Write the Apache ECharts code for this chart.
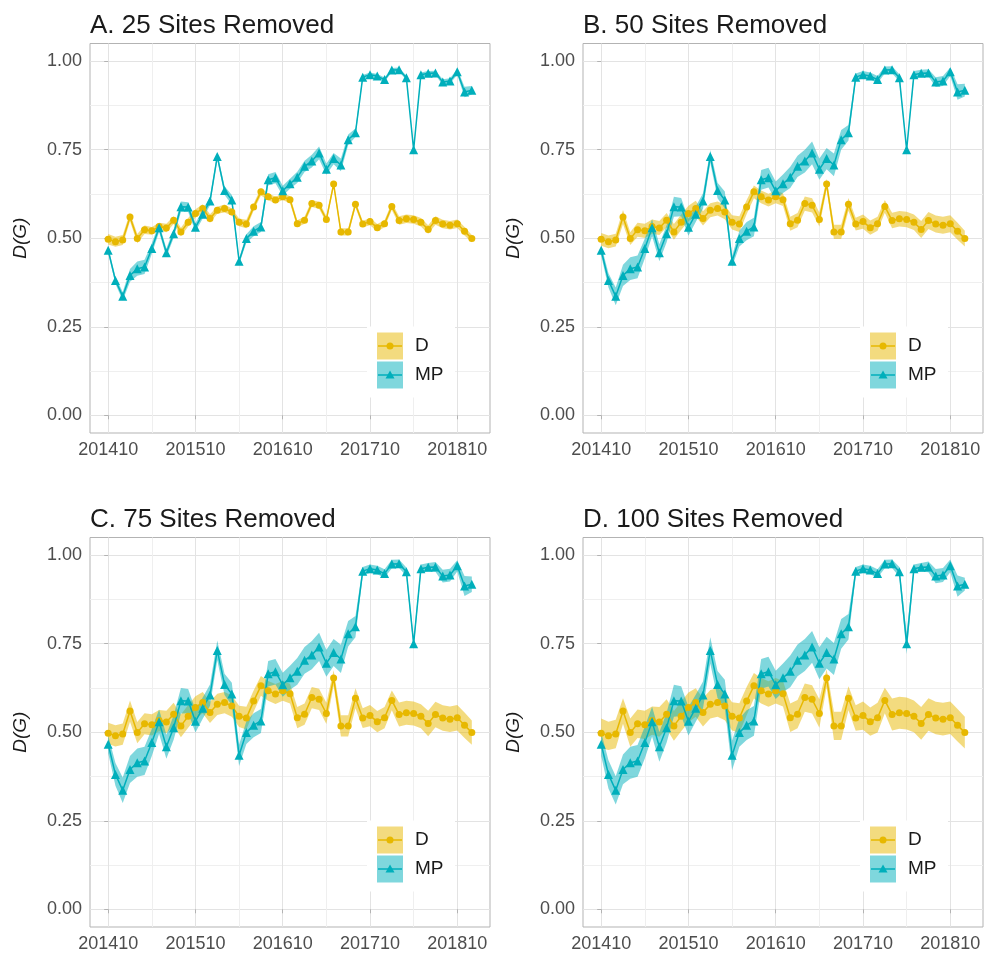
<!DOCTYPE html>
<html>
<head>
<meta charset="utf-8">
<script src="https://cdn.jsdelivr.net/npm/echarts@6/dist/echarts.min.js"></script>
<style>
  html, body { margin: 0; padding: 0; background: #fff; }
  #chart { width: 984px; height: 954px; }
</style>
</head>
<body>
<div id="chart"></div>
<script>
// Monthly sampling periods (yyyymm)
const months = [
  '201410','201411','201412',
  '201501','201502','201503','201504','201505','201506','201507','201508','201509','201510','201511','201512',
  '201601','201602','201603','201604','201605','201606','201607','201608','201609','201610','201611','201612',
  '201701','201702','201703','201704','201705','201706','201707','201708','201709','201710','201711','201712',
  '201801','201802','201803','201804','201805','201806','201807','201808','201809','201810','201811','201812'
];
const xTickLabels = ['201410', '201510', '201610', '201710', '201810'];
const yTickValues = [0, 0.25, 0.5, 0.75, 1];

const panelTitles = ['A. 25 Sites Removed', 'B. 50 Sites Removed', 'C. 75 Sites Removed', 'D. 100 Sites Removed'];
const seriesNames = ['D', 'MP'];

// Mean D(G) per month
const meanD = [0.497,0.490,0.495,0.560,0.499,0.524,0.521,0.533,0.529,0.551,0.518,0.545,0.570,0.584,0.556,0.579,0.584,0.574,0.545,0.540,0.588,0.631,0.617,0.608,0.617,0.609,0.541,0.551,0.598,0.593,0.553,0.653,0.518,0.518,0.596,0.540,0.547,0.530,0.541,0.590,0.550,0.555,0.553,0.545,0.525,0.550,0.540,0.537,0.541,0.520,0.499];
const meanMP = [0.466,0.381,0.336,0.395,0.414,0.419,0.471,0.530,0.459,0.513,0.589,0.588,0.531,0.568,0.605,0.731,0.635,0.608,0.435,0.499,0.520,0.532,0.665,0.671,0.634,0.654,0.672,0.703,0.718,0.741,0.695,0.725,0.707,0.778,0.798,0.955,0.962,0.958,0.948,0.975,0.976,0.953,0.750,0.962,0.966,0.967,0.941,0.944,0.970,0.913,0.918];

// Half-widths of the uncertainty bands, one array per panel and series
const bandD25 = [0.015,0.014,0.014,0.012,0.013,0.012,0.011,0.011,0.012,0.011,0.012,0.012,0.012,0.012,0.012,0.010,0.011,0.010,0.011,0.012,0.010,0.010,0.010,0.009,0.009,0.010,0.010,0.010,0.010,0.010,0.009,0.008,0.010,0.010,0.009,0.009,0.010,0.010,0.010,0.010,0.012,0.012,0.012,0.012,0.012,0.012,0.012,0.012,0.012,0.012,0.010];
const bandMP25 = [0.008,0.010,0.012,0.018,0.020,0.020,0.015,0.012,0.012,0.012,0.015,0.014,0.012,0.012,0.012,0.010,0.012,0.014,0.008,0.012,0.014,0.014,0.016,0.016,0.014,0.014,0.016,0.016,0.018,0.018,0.016,0.016,0.018,0.015,0.012,0.006,0.006,0.006,0.006,0.006,0.006,0.006,0.004,0.006,0.006,0.006,0.008,0.008,0.008,0.015,0.012];
const bandD50 = [0.018,0.018,0.018,0.020,0.018,0.020,0.020,0.020,0.020,0.020,0.022,0.022,0.022,0.022,0.020,0.020,0.020,0.020,0.020,0.022,0.020,0.018,0.018,0.018,0.018,0.018,0.020,0.020,0.020,0.020,0.020,0.015,0.020,0.020,0.018,0.018,0.020,0.020,0.020,0.018,0.022,0.022,0.022,0.022,0.024,0.024,0.024,0.024,0.024,0.024,0.022];
const bandMP50 = [0.015,0.020,0.025,0.030,0.032,0.032,0.028,0.024,0.024,0.024,0.028,0.026,0.024,0.022,0.022,0.018,0.022,0.024,0.015,0.022,0.026,0.026,0.028,0.028,0.026,0.026,0.030,0.030,0.032,0.032,0.030,0.030,0.032,0.028,0.022,0.010,0.010,0.010,0.010,0.010,0.010,0.010,0.006,0.010,0.010,0.010,0.014,0.014,0.012,0.022,0.018];
const bandD75 = [0.030,0.030,0.030,0.030,0.030,0.030,0.030,0.030,0.032,0.032,0.032,0.032,0.032,0.030,0.030,0.030,0.030,0.030,0.030,0.032,0.030,0.028,0.028,0.028,0.028,0.028,0.030,0.030,0.030,0.030,0.030,0.022,0.030,0.030,0.028,0.028,0.030,0.030,0.030,0.028,0.034,0.034,0.034,0.034,0.036,0.036,0.036,0.036,0.036,0.036,0.034];
const bandMP75 = [0.025,0.032,0.036,0.038,0.040,0.040,0.038,0.034,0.034,0.034,0.036,0.034,0.032,0.030,0.030,0.028,0.030,0.032,0.030,0.032,0.034,0.034,0.036,0.036,0.034,0.034,0.038,0.038,0.040,0.040,0.038,0.038,0.040,0.036,0.030,0.012,0.012,0.012,0.012,0.012,0.012,0.012,0.015,0.012,0.012,0.014,0.018,0.018,0.016,0.028,0.022];
const bandD100 = [0.042,0.040,0.040,0.036,0.040,0.040,0.040,0.040,0.042,0.042,0.042,0.042,0.042,0.040,0.040,0.040,0.040,0.040,0.040,0.042,0.040,0.036,0.036,0.036,0.036,0.036,0.040,0.040,0.040,0.040,0.040,0.025,0.040,0.040,0.034,0.036,0.040,0.040,0.042,0.036,0.045,0.045,0.045,0.045,0.046,0.046,0.046,0.046,0.046,0.046,0.045];
const bandMP100 = [0.033,0.040,0.040,0.042,0.045,0.045,0.045,0.042,0.042,0.042,0.045,0.042,0.040,0.038,0.038,0.037,0.038,0.040,0.042,0.040,0.042,0.042,0.042,0.042,0.040,0.040,0.045,0.045,0.045,0.045,0.045,0.045,0.045,0.042,0.036,0.012,0.012,0.012,0.012,0.012,0.012,0.014,0.030,0.012,0.012,0.015,0.020,0.020,0.018,0.030,0.018];

const bandsD = [bandD25, bandD50, bandD75, bandD100];
const bandsMP = [bandMP25, bandMP50, bandMP75, bandMP100];

const COLORS = { D: '#E7B800', MP: '#00AFBB' };
const FONT = 'Liberation Sans, Arial, sans-serif';

// Panel geometry (px)
const PW = 400, PH = 389.5;
const panels = [
  { left: 90,  top: 43.5 },
  { left: 583, top: 43.5 },
  { left: 90,  top: 537.5 },
  { left: 583, top: 537.5 }
];

const X_MIN = -2.5, X_MAX = months.length - 1 + 2.5;
const majorX = xTickLabels.map(l => months.indexOf(l));
const minorX = majorX.map(v => v + 6).filter(v => v < X_MAX);
const minorY = [0.125, 0.375, 0.625, 0.875];

const chart = echarts.init(document.getElementById('chart'), null, { renderer: 'canvas' });

const grid = [], xAxis = [], yAxis = [], series = [], title = [], graphic = [];

function bandSeries(p, name, center, hw, color) {
  return {
    type: 'custom',
    name: name + ' band',
    xAxisIndex: 2 * p, yAxisIndex: 2 * p,
    silent: true,
    z: 2,
    data: center.map((v, i) => [i, v - hw[i], v + hw[i]]),
    encode: { x: 0, y: [1, 2] },
    renderItem: function (params, api) {
      if (params.dataIndex !== 0) return null;
      const pts = [];
      for (let i = 0; i < center.length; i++) pts.push(api.coord([i, center[i] + hw[i]]));
      for (let i = center.length - 1; i >= 0; i--) pts.push(api.coord([i, center[i] - hw[i]]));
      return { type: 'polygon', shape: { points: pts }, style: { fill: color, opacity: 0.5 } };
    }
  };
}

function lineSeries(p, name, center, color, symbol, size) {
  return {
    type: 'line',
    name: name,
    xAxisIndex: 2 * p, yAxisIndex: 2 * p,
    data: center.map((v, i) => [i, v]),
    symbol: symbol,
    symbolSize: size,
    showSymbol: true,
    silent: true,
    z: 3,
    lineStyle: { color: color, width: 1.5 },
    itemStyle: { color: color, borderWidth: 0 },
    animation: false
  };
}

panels.forEach((pn, p) => {
  grid.push({
    left: pn.left, top: pn.top, width: PW, height: PH,
    show: true, borderColor: '#b3b3b3', borderWidth: 1, backgroundColor: '#fff'
  });
  // major x axis
  xAxis.push({
    type: 'value', gridIndex: p, min: X_MIN, max: X_MAX,
    axisLine: { show: false },
    axisTick: { show: true, length: 4, lineStyle: { color: '#b3b3b3' }, customValues: majorX },
    axisLabel: {
      show: true, customValues: majorX, margin: 8, color: '#4d4d4d', fontSize: 18, fontFamily: FONT,
      formatter: v => months[Math.round(v)]
    },
    splitLine: { show: true, lineStyle: { color: '#e3e3e3', width: 1 } }
  });
  // minor x grid lines
  xAxis.push({
    type: 'value', gridIndex: p, min: X_MIN, max: X_MAX,
    axisLine: { show: false }, axisLabel: { show: false },
    axisTick: { show: false, customValues: minorX },
    splitLine: { show: true, lineStyle: { color: '#efefef', width: 1 } }
  });
  yAxis.push({
    type: 'value', gridIndex: p, min: -0.05, max: 1.05,
    name: 'D(G)', nameLocation: 'middle', nameGap: 60, nameRotate: 90,
    nameTextStyle: { fontStyle: 'italic', fontSize: 19, color: '#1a1a1a', fontFamily: FONT },
    axisLine: { show: false },
    axisTick: { show: true, length: 4, lineStyle: { color: '#b3b3b3' }, customValues: yTickValues },
    axisLabel: {
      show: true, customValues: yTickValues, margin: 8, color: '#4d4d4d', fontSize: 18, fontFamily: FONT,
      formatter: v => v.toFixed(2)
    },
    splitLine: { show: true, lineStyle: { color: '#e3e3e3', width: 1 } }
  });
  yAxis.push({
    type: 'value', gridIndex: p, min: -0.05, max: 1.05,
    axisLine: { show: false }, axisLabel: { show: false },
    axisTick: { show: false, customValues: minorY },
    splitLine: { show: true, lineStyle: { color: '#efefef', width: 1 } }
  });

  series.push(bandSeries(p, 'D', meanD, bandsD[p], COLORS.D));
  series.push(bandSeries(p, 'MP', meanMP, bandsMP[p], COLORS.MP));
  series.push(lineSeries(p, 'D', meanD, COLORS.D, 'circle', 7));
  series.push(lineSeries(p, 'MP', meanMP, COLORS.MP, 'triangle', 9));

  title.push({
    text: panelTitles[p], left: pn.left, top: pn.top - 31, padding: 0,
    textStyle: { fontSize: 26, fontWeight: 'normal', color: '#1a1a1a', fontFamily: FONT }
  });

  // legend box inside the panel, lower right
  const lx = pn.left + 287, ly = pn.top + 289;
  const Z = 100;
  graphic.push({ type: 'rect', z: Z, silent: true, shape: { x: lx - 10, y: ly - 6, width: 88, height: 71 }, style: { fill: '#fff' } });
  seriesNames.forEach((nm, k) => {
    const ky = ly + k * 29;
    const col = COLORS[nm];
    graphic.push({ type: 'rect', z: Z + 1, silent: true, shape: { x: lx, y: ky, width: 26, height: 27 }, style: { fill: col, opacity: 0.5 } });
    graphic.push({ type: 'line', z: Z + 2, silent: true, shape: { x1: lx + 1, y1: ky + 13.5, x2: lx + 25, y2: ky + 13.5 }, style: { stroke: col, lineWidth: 1.5 } });
    if (nm === 'D') {
      graphic.push({ type: 'circle', z: Z + 3, silent: true, shape: { cx: lx + 13, cy: ky + 13.5, r: 3.5 }, style: { fill: col } });
    } else {
      graphic.push({ type: 'polygon', z: Z + 3, silent: true, shape: { points: [[lx + 13, ky + 9], [lx + 17.5, ky + 17], [lx + 8.5, ky + 17]] }, style: { fill: col } });
    }
    graphic.push({ type: 'text', z: Z + 3, silent: true, style: { x: lx + 38, y: ky + 13.5, text: nm, fontSize: 19, fontFamily: FONT, fill: '#1a1a1a', verticalAlign: 'middle' } });
  });
});

chart.setOption({
  animation: false,
  backgroundColor: '#fff',
  title: title,
  grid: grid,
  xAxis: xAxis,
  yAxis: yAxis,
  series: series,
  graphic: graphic
});
</script>
</body>
</html>
